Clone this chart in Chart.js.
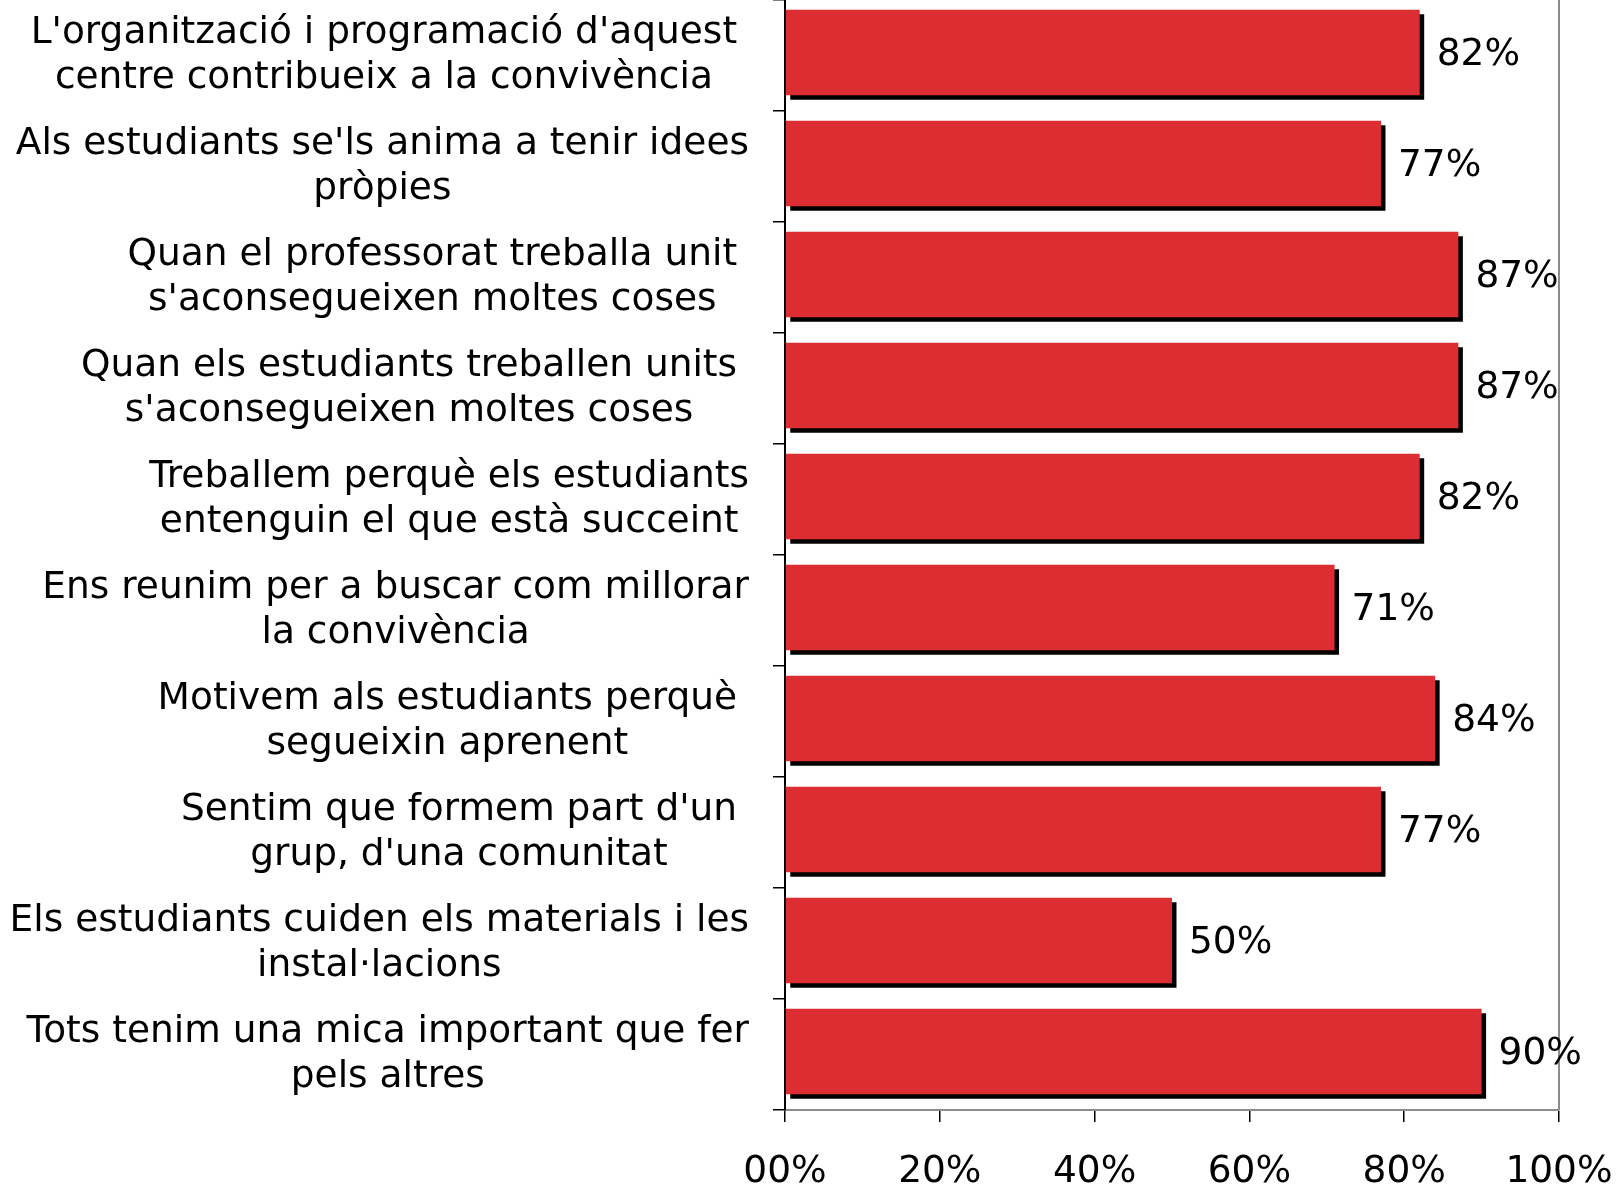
<!DOCTYPE html>
<html>
<head>
<meta charset="utf-8">
<script src="https://cdn.jsdelivr.net/npm/chart.js@4.4.1/dist/chart.umd.min.js"></script>
<style>
  html, body { margin: 0; padding: 0; background: #fff; }
  #wrap { width: 1616px; height: 1186px; }
</style>
</head>
<body>
<div id="wrap"><canvas id="convChart"></canvas></div>
<script>
// categories (each wrapped over two lines, trailing spaces as in the original)
const categories = [
  ["L'organització i programació d'aquest ", "centre contribueix a la convivència "],
  ["Als estudiants se'ls anima a tenir idees", "pròpies"],
  ["Quan el professorat treballa unit ", "s'aconsegueixen moltes coses "],
  ["Quan els estudiants treballen units ", "s'aconsegueixen moltes coses "],
  ["Treballem perquè els estudiants", "entenguin el que està succeint"],
  ["Ens reunim per a buscar com millorar", "la convivència"],
  ["Motivem als estudiants perquè ", "segueixin aprenent "],
  ["Sentim que formem part d'un ", "grup, d'una comunitat "],
  ["Els estudiants cuiden els materials i les", "instal·lacions"],
  ["Tots tenim una mica important que fer", "pels altres"]
];
const values = [82, 77, 87, 87, 82, 71, 84, 77, 50, 90];
const xTickLabels = ['00%', '20%', '40%', '60%', '80%', '100%'];

const FONT_FAMILY = '"DejaVu Sans", Verdana, sans-serif';
const FONT = '37.5px ' + FONT_FAMILY;
const barRed = '#dc2d33';
const BAR_SHIFT = -3; // bars sit a little above the category centre

// black drop shadow behind bars
const shadowPlugin = {
  id: 'shadow',
  beforeDatasetsDraw(chart) {
    const c = chart.ctx;
    c.save();
    c.translate(0, BAR_SHIFT);
    c.shadowColor = '#000';
    c.shadowBlur = 0;
    c.shadowOffsetX = 4.5;
    c.shadowOffsetY = 4.5;
  },
  afterDatasetsDraw(chart) {
    chart.ctx.restore();
  }
};

// category labels (centered lines, block right aligned) + value labels + right border
const labelsPlugin = {
  id: 'labels',
  afterDraw(chart) {
    const c = chart.ctx;
    const yScale = chart.scales.y;
    const area = chart.chartArea;
    c.save();
    c.font = FONT;
    c.fillStyle = '#000';
    c.textBaseline = 'middle';

    // right border of the plot
    c.strokeStyle = '#8c8c8c';
    c.lineWidth = 2;
    c.beginPath();
    c.moveTo(area.right, area.top);
    c.lineTo(area.right, area.bottom);
    c.stroke();

    const meta = chart.getDatasetMeta(0);
    const rightEdge = yScale.right - 36;
    const lineH = 45;
    categories.forEach((lines, i) => {
      const yc = meta.data[i].y;
      let w = 0;
      lines.forEach(l => { w = Math.max(w, c.measureText(l).width); });
      const cx = rightEdge - w / 2;
      c.textAlign = 'center';
      lines.forEach((l, j) => {
        const y = yc + (j - (lines.length - 1) / 2) * lineH;
        c.fillText(l, cx, y);
      });
      // value label
      c.textAlign = 'left';
      c.fillText(values[i] + '%', meta.data[i].x + 17, yc);
    });
    c.restore();
  }
};

const ctx = document.getElementById('convChart').getContext('2d');

new Chart(ctx, {
  type: 'bar',
  data: {
    labels: categories,
    datasets: [{
      data: values,
      backgroundColor: barRed,
      borderWidth: 0,
      categoryPercentage: 1,
      barPercentage: 0.77
    }]
  },
  options: {
    indexAxis: 'y',
    responsive: true,
    maintainAspectRatio: false,
    animation: false,
    layout: {
      padding: { left: 0, right: 57, top: 0, bottom: 0 }
    },
    scales: {
      x: {
        min: 0,
        max: 100,
        ticks: {
          stepSize: 20,
          color: '#000',
          font: { family: FONT_FAMILY, size: 37.5 },
          padding: 28,
          maxRotation: 0,
          callback: (v, i) => xTickLabels[i]
        },
        grid: {
          drawOnChartArea: false,
          drawTicks: true,
          tickLength: 12,
          color: '#000',
          lineWidth: 1.5
        },
        border: { display: true, color: '#8c8c8c', width: 2 },
        afterFit(scale) {
          scale.height = 76;
          scale.paddingLeft = 0;
          scale.paddingRight = 0;
        }
      },
      y: {
        ticks: { display: false },
        grid: {
          offset: true,
          drawOnChartArea: false,
          drawTicks: true,
          tickLength: 12,
          color: '#000',
          lineWidth: 1.5
        },
        border: { display: true, color: '#000', width: 2 },
        afterFit(scale) { scale.width = 785; }
      }
    },
    plugins: {
      legend: { display: false },
      tooltip: { enabled: false }
    }
  },
  plugins: [shadowPlugin, labelsPlugin]
});
</script>
</body>
</html>
